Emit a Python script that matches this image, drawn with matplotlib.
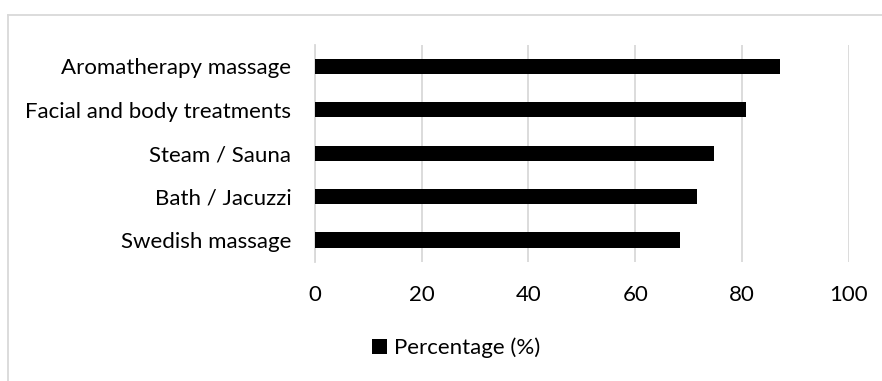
import matplotlib
matplotlib.use("Agg")
import matplotlib.pyplot as plt
from matplotlib.lines import Line2D
from matplotlib.patches import Patch

categories = ["Swedish massage", "Bath / Jacuzzi", "Steam / Sauna",
              "Facial and body treatments", "Aromatherapy massage"]
values = [68.4, 71.5, 74.8, 80.7, 87.2]
xticks = [0, 20, 40, 60, 80, 100]
series_name = "Percentage (%)"

plt.rcParams['font.family'] = ['Lato', 'DejaVu Sans']
FS = 16

W, H = 882, 381
fig = plt.figure(figsize=(W / 100, H / 100), dpi=100)
ax = fig.add_axes([315 / W, 1 - 261.7 / H, (848.7 - 315) / W, (261.7 - 44.7) / H])

ax.barh(range(len(categories)), values, height=0.35, color="black", zorder=3)
ax.set_xlim(0, 100)
ax.set_ylim(-0.5, len(categories) - 0.5)
ax.set_xticks(xticks)
ax.set_xticklabels([str(t) for t in xticks], fontsize=FS)
ax.set_yticks(range(len(categories)))
ax.set_yticklabels(categories, fontsize=FS)
ax.tick_params(axis='both', length=0)
ax.tick_params(axis='y', pad=17)
ax.tick_params(axis='x', pad=17)
ax.grid(axis='x', color="#d9d9d9", linewidth=1.3, zorder=0)
for s in ['top', 'right', 'bottom']:
    ax.spines[s].set_visible(False)
ax.spines['left'].set_color("#d9d9d9")
ax.spines['left'].set_linewidth(1.3)

fig.legend(handles=[Patch(facecolor="black", label=series_name)],
           loc='center', bbox_to_anchor=(456 / W, 1 - 348 / H),
           frameon=False, fontsize=FS, handlelength=0.7, handleheight=0.7,
           handletextpad=0.3)

fig.add_artist(Line2D([8 / W, 1], [1 - 15 / H, 1 - 15 / H], color="#d9d9d9", linewidth=1.3))
fig.add_artist(Line2D([8 / W, 8 / W], [0, 1 - 15 / H], color="#d9d9d9", linewidth=1.3))

fig.savefig("out.png", dpi=100)
